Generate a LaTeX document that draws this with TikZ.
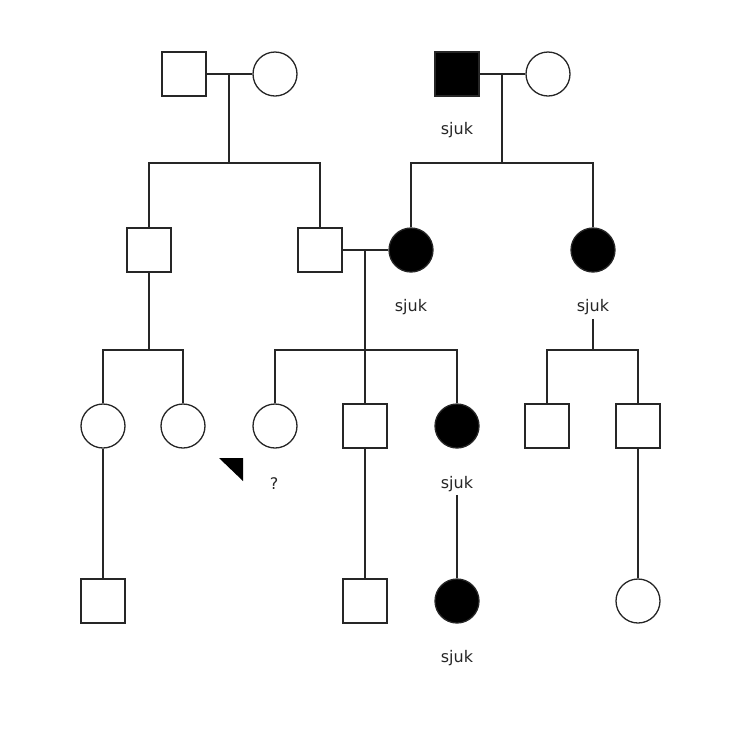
\documentclass[tikz,border=0pt]{standalone}
\usepackage{fontspec}
\setmainfont{DejaVu Sans}
\begin{document}
\begin{tikzpicture}[x=1pt,y=-1pt,
  ped/.style={draw=black!85, line width=1.3pt, inner sep=0pt, minimum size=44pt},
  male/.style={ped, rectangle},
  female/.style={ped, circle},
  sick/.style={fill=black},
  lab/.style={font=\fontsize{16}{18}\selectfont, text=black!85, inner sep=1pt},
  conn/.style={draw=black!85, line width=1.3pt}]
\useasboundingbox (0,0) rectangle (740,729);
% generation I
\node[male] (a1) at (184,74) {};
\node[female] (a2) at (275,74) {};
\node[male,sick] (b1) at (457,74) {};
\node[female] (b2) at (548,74) {};
\node[lab] (l1) at (457,130) {sjuk};
% generation II
\node[male] (c1) at (149,250) {};
\node[male] (c2) at (320,250) {};
\node[female,sick] (c3) at (411,250) {};
\node[female,sick] (c4) at (593,250) {};
\node[lab] (l2) at (411,307) {sjuk};
\node[lab] (l3) at (593,307) {sjuk};
% generation III
\node[female] (d1) at (103,426) {};
\node[female] (d2) at (183,426) {};
\node[female] (d3) at (275,426) {};
\node[male] (d4) at (365,426) {};
\node[female,sick] (d5) at (457,426) {};
\node[male] (d6) at (547,426) {};
\node[male] (d7) at (638,426) {};
\node[lab] (l4) at (457,484) {sjuk};
\node[lab] (q) at (274,484) {?};
% generation IV
\node[male] (e1) at (103,601) {};
\node[male] (e2) at (365,601) {};
\node[female,sick] (e3) at (457,601) {};
\node[female] (e4) at (638,601) {};
\node[lab] (l5) at (457,658) {sjuk};
% proband arrow
\fill[black] (219,458) -- (243,458) -- (243,481) -- cycle;
% junctions
\coordinate (m1) at (229,74);
\coordinate (s1) at (229,163);
\coordinate (m2) at (502,74);
\coordinate (s2) at (502,163);
\coordinate (m3) at (365,250);
\coordinate (s3) at (365,350);
\coordinate (s4) at (149,350);
\coordinate (s5) at (593,350);
% connectors
\draw[conn] (a1.east) -- (a2.west);
\draw[conn] (m1) -- (s1);
\draw[conn] (c1.north) |- (s1) -| (c2.north);
\draw[conn] (b1.east) -- (b2.west);
\draw[conn] (m2) -- (s2);
\draw[conn] (c3.north) |- (s2) -| (c4.north);
\draw[conn] (c2.east) -- (c3.west);
\draw[conn] (m3) -- (s3);
\draw[conn] (d3.north) |- (s3) -| (d5.north);
\draw[conn] (s3) -- (d4.north);
\draw[conn] (c1.south) -- (s4);
\draw[conn] (d1.north) |- (s4) -| (d2.north);
\draw[conn] (l3.south) ++(0,3) -- (s5);
\draw[conn] (d6.north) |- (s5) -| (d7.north);
\draw[conn] (d1.south) -- (e1.north);
\draw[conn] (d4.south) -- (e2.north);
\draw[conn] (l4.south) ++(0,2) -- (e3.north);
\draw[conn] (d7.south) -- (e4.north);
\end{tikzpicture}
\end{document}
